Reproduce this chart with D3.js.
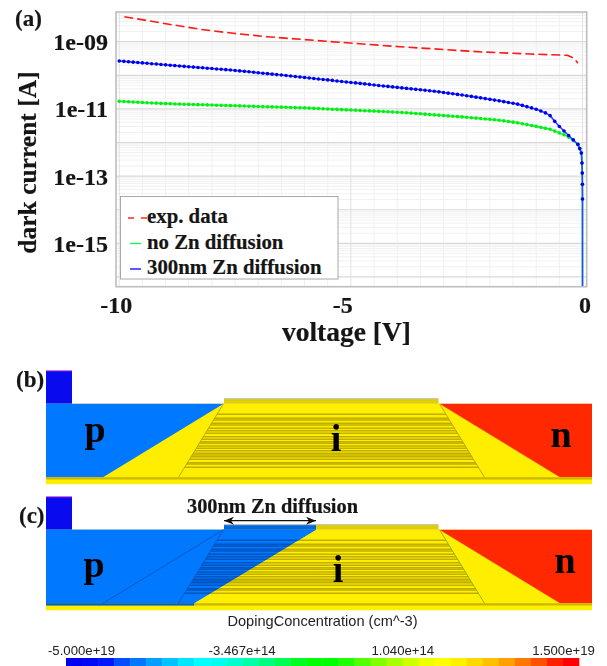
<!DOCTYPE html>
<html>
<head>
<meta charset="utf-8">
<style>
    html, body { margin: 0; padding: 0; background: #fff; }
    svg { display: block; filter: blur(0.35px); }
    .serif { font-family: "Liberation Serif", serif; font-weight: bold; fill: #151515; stroke: #151515; stroke-width: 0.2px; }
    .sans { font-family: "Liberation Sans", sans-serif; fill: #222; }
</style>
<script src="https://d3js.org/d3.v7.min.js"></script>
</head>
<body>
<svg id="chart" width="607" height="666"></svg>
<script>
// exp. data
var expVoltage = [-9.89, -8.96, -8.25, -7.54, -6.81, -6.09, -5.02, -3.94, -2.15, -1.13, -0.33, -0.23, -0.16, -0.10];
var expLogCurrent = [-8.256, -8.473, -8.631, -8.75, -8.851, -8.929, -9.039, -9.149, -9.307, -9.366, -9.405, -9.464, -9.53, -9.643];

// simulated sweeps share the same voltage points
var simVoltage = [-10, -9.9, -9.8, -9.7, -9.6, -9.5, -9.4, -9.3, -9.2, -9.1,
    -9, -8.9, -8.8, -8.7, -8.6, -8.5, -8.4, -8.3, -8.2, -8.1,
    -8, -7.9, -7.8, -7.7, -7.6, -7.5, -7.4, -7.3, -7.2, -7.1,
    -7, -6.9, -6.8, -6.7, -6.6, -6.5, -6.4, -6.3, -6.2, -6.1,
    -6, -5.9, -5.8, -5.7, -5.6, -5.5, -5.4, -5.3, -5.2, -5.1,
    -5, -4.9, -4.8, -4.7, -4.6, -4.5, -4.4, -4.3, -4.2, -4.1,
    -4, -3.9, -3.8, -3.7, -3.6, -3.5, -3.4, -3.3, -3.2, -3.1,
    -3, -2.9, -2.8, -2.7, -2.6, -2.5, -2.4, -2.3, -2.2, -2.1,
    -2, -1.9, -1.8, -1.7, -1.6, -1.5, -1.4, -1.3, -1.2, -1.1,
    -1, -0.9, -0.8, -0.7, -0.6, -0.5, -0.4, -0.3, -0.2, -0.1,
    -0.06, -0.025, -0.012, -0.006, -0.003, -0.001, -0.0002];
var noZnLogCurrent = [-10.774, -10.781, -10.788, -10.795, -10.801, -10.808, -10.815, -10.822, -10.829, -10.836,
    -10.842, -10.848, -10.852, -10.856, -10.86, -10.865, -10.869, -10.873, -10.877, -10.881,
    -10.885, -10.89, -10.894, -10.898, -10.902, -10.906, -10.91, -10.915, -10.919, -10.923,
    -10.927, -10.931, -10.935, -10.939, -10.943, -10.947, -10.952, -10.956, -10.96, -10.964,
    -10.97, -10.976, -10.983, -10.989, -10.995, -11.002, -11.008, -11.014, -11.021, -11.027,
    -11.034, -11.04, -11.046, -11.053, -11.059, -11.065, -11.072, -11.078, -11.085, -11.091,
    -11.097, -11.105, -11.115, -11.125, -11.135, -11.145, -11.155, -11.165, -11.176, -11.186,
    -11.197, -11.207, -11.218, -11.228, -11.238, -11.249, -11.261, -11.273, -11.285, -11.298,
    -11.31, -11.323, -11.336, -11.355, -11.374, -11.394, -11.414, -11.44, -11.466, -11.492,
    -11.52, -11.549, -11.578, -11.607, -11.66, -11.714, -11.768, -11.838, -11.94, -12.05,
    -12.18, -12.31, -12.61, -12.91, -13.24, -13.68, -16.29];
var znLogCurrent = [-9.574, -9.585, -9.597, -9.608, -9.62, -9.631, -9.643, -9.654, -9.665, -9.677,
    -9.688, -9.7, -9.711, -9.722, -9.733, -9.744, -9.755, -9.766, -9.777, -9.788,
    -9.799, -9.81, -9.821, -9.832, -9.843, -9.855, -9.869, -9.882, -9.896, -9.91,
    -9.924, -9.937, -9.951, -9.965, -9.978, -9.992, -10.006, -10.02, -10.034, -10.048,
    -10.063, -10.078, -10.093, -10.108, -10.123, -10.137, -10.152, -10.167, -10.182, -10.197,
    -10.212, -10.226, -10.241, -10.256, -10.271, -10.286, -10.301, -10.316, -10.33, -10.345,
    -10.36, -10.375, -10.389, -10.403, -10.417, -10.431, -10.444, -10.458, -10.473, -10.492,
    -10.511, -10.53, -10.549, -10.568, -10.587, -10.606, -10.627, -10.649, -10.671, -10.693,
    -10.715, -10.737, -10.76, -10.784, -10.808, -10.832, -10.858, -10.895, -10.933, -10.97,
    -11.012, -11.062, -11.118, -11.2, -11.37, -11.525, -11.655, -11.79, -11.92, -12.055,
    -12.18, -12.31, -12.61, -12.91, -13.24, -13.68, -16.29];

var voltageTicks = [-10, -5, 0];
var voltageGrid = [-10, -9.5, -9, -8.5, -8, -7.5, -7, -6.5, -6, -5.5, -5, -4.5, -4, -3.5, -3, -2.5, -2, -1.5, -1, -0.5, 0];
var decadeGrid = [-9, -10, -11, -12, -13, -14, -15, -16];
var decadeLabels = [-9, -11, -13, -15];
var minorSteps = [2, 3, 4, 5, 6, 7, 8, 9];

var legendNames = ["exp. data", "no Zn diffusion", "300nm Zn diffusion"];
var legendColors = ["#ff2a2a", "#00ff55", "#0000ff"];

// device cross section, in pixels of the drawing from the contact's top left corner
var contactShape = [[0, 0], [26, 0], [26, 33], [0, 33]];
var pShape = [[0, 33], [177.5, 33], [57, 106.6], [0, 106.6]];
var nShape = [[393.5, 33], [546, 33], [546, 106.6], [514, 106.6]];
var activeShape = [[177.5, 33], [393.5, 33], [438.5, 106.6], [132.5, 106.6]];
var mesaShape = [[178, 28], [392.5, 28], [392.5, 33], [178, 33]];
var baseShape = [[0, 33], [546, 33], [546, 113.5], [0, 113.5]];
var bufferBand = [[0, 106.6], [546, 106.6], [546, 108.8], [0, 108.8]];
var znShape = [[0, 33], [270, 33], [148, 106.6], [0, 106.6]];
var znActiveShape = [[177.5, 33], [270, 33], [148, 106.6], [132.5, 106.6]];
var znMesaShape = [[178, 28], [270, 28], [270, 33], [178, 33]];
var znBufferBand = [[0, 106.6], [148, 106.6], [148, 108.8], [0, 108.8]];
var layerDepths = [43.6, 47.6, 49.3, 52.6, 54.3, 57.6, 60, 62.6, 66, 68.6, 71, 72.6, 75.3, 77.6, 80, 82.6, 84.3, 86, 88.6, 92, 93.3, 96.6];

var scaleColors = ["#0000f0", "#0008f4", "#0018f8", "#0050ff", "#0078ff", "#00a0ff", "#00c4ff", "#00e8ff",
    "#00ffff", "#00fff0", "#00ffd0", "#00ffa8", "#00ff80", "#00ff50", "#00ff20", "#00ff00",
    "#00ff00", "#20ff00", "#50ff00", "#80ff00", "#a8ff00", "#d0ff00", "#f0ff00", "#ffff00",
    "#fff000", "#ffd800", "#ffc000", "#ffa000", "#ff7800", "#ff5000", "#ff2000", "#ff0000"];
var scaleLabels = ["-5.000e+19", "-3.467e+14", "1.040e+14", "1.500e+19"];

var svg = d3.select("#chart");

// ---- (a) dark current plot
var x = d3.scaleLinear().domain([-10.07, 0.09]).range([116, 586.7]);
var y = d3.scaleLinear().domain([-8.116, -16.29]).range([12, 286.7]);

var plot = svg.append("g");

plot.append("rect")
    .attr("x", x.range()[0]).attr("y", y.range()[0])
    .attr("width", x.range()[1] - x.range()[0]).attr("height", y.range()[1] - y.range()[0])
    .attr("fill", "#fff");

decadeGrid.forEach(function (decade) {
    minorSteps.forEach(function (step) {
        var value = decade + Math.log10(step);
        if (value > y.domain()[0]) { return; }
        plot.append("line")
            .attr("x1", x.range()[0]).attr("x2", x.range()[1])
            .attr("y1", y(value)).attr("y2", y(value))
            .attr("stroke", "#f1f1f1").attr("stroke-width", 1);
    });
});

plot.selectAll(".vgrid").data(voltageGrid).enter().append("line")
    .attr("class", "vgrid")
    .attr("x1", function (d) { return x(d); }).attr("x2", function (d) { return x(d); })
    .attr("y1", y.range()[0]).attr("y2", y.range()[1])
    .attr("stroke", function (d) { return d % 5 === 0 ? "#e2e2e2" : "#f0f0f0"; })
    .attr("stroke-width", 1);

plot.selectAll(".hgrid").data(decadeGrid).enter().append("line")
    .attr("class", "hgrid")
    .attr("x1", x.range()[0]).attr("x2", x.range()[1])
    .attr("y1", function (d) { return y(d); }).attr("y2", function (d) { return y(d); })
    .attr("stroke", "#d9d9d9").attr("stroke-width", 1.2);

var curve = d3.line()
    .x(function (d) { return x(d[0]); })
    .y(function (d) { return y(d[1]); });

plot.append("path")
    .attr("d", curve(d3.zip(expVoltage, expLogCurrent)))
    .attr("fill", "none")
    .attr("stroke", "#ff1818")
    .attr("stroke-width", 1.6)
    .attr("stroke-dasharray", "9,4");

function drawSweep(values, lineColor, dotColor) {
    var points = d3.zip(simVoltage, values);
    plot.append("path")
        .attr("d", curve(points))
        .attr("fill", "none")
        .attr("stroke", lineColor)
        .attr("stroke-width", 1.6);
    // the last point only carries the line down to the axis
    plot.append("g").selectAll("circle").data(points.slice(0, -1)).enter().append("circle")
        .attr("cx", function (d) { return x(d[0]); })
        .attr("cy", function (d) { return y(d[1]); })
        .attr("r", 1.8)
        .attr("fill", dotColor);
}
drawSweep(noZnLogCurrent, "#20f840", "#00f010");
drawSweep(znLogCurrent, "#2a48ff", "#0000f0");

plot.append("rect")
    .attr("x", x.range()[0]).attr("y", y.range()[0])
    .attr("width", x.range()[1] - x.range()[0]).attr("height", y.range()[1] - y.range()[0])
    .attr("fill", "none")
    .attr("stroke", "#bdbdbd")
    .attr("stroke-width", 1.6);

// axes only supply the labels, the frame above is the axis line
var yAxis = plot.append("g")
    .attr("transform", "translate(108,0)")
    .call(d3.axisLeft(y).tickValues(decadeLabels).tickSize(0).tickPadding(0)
        .tickFormat(function (d) { return "1e-" + d3.format("02d")(-d); }));
yAxis.select(".domain").remove();
yAxis.selectAll("text").attr("class", "serif").style("font-size", "24px").attr("dy", "0.33em");

var xAxis = plot.append("g")
    .attr("transform", "translate(0,313)")
    .call(d3.axisBottom(x).tickValues(voltageTicks).tickSize(0).tickPadding(0)
        .tickFormat(function (d) { return String(d); }));
xAxis.select(".domain").remove();
xAxis.selectAll("text").attr("class", "serif").style("font-size", "24px").attr("dy", 0)
    .attr("x", function (d) { return d === -10 ? -3.5 : d === -5 ? -8.7 : 2; });

plot.append("text").attr("class", "serif")
    .attr("x", 346.5).attr("y", 341)
    .attr("text-anchor", "middle")
    .style("font-size", "27.5px")
    .text("voltage [V]");

plot.append("text").attr("class", "serif")
    .attr("transform", "translate(36,162.5) rotate(-90)")
    .attr("text-anchor", "middle")
    .style("font-size", "25.5px")
    .text("dark current [A]");

// legend box
var legend = plot.append("g");
legend.append("rect")
    .attr("x", 120.5).attr("y", 196.5).attr("width", 217.5).attr("height", 82.5)
    .attr("fill", "#fff").attr("stroke", "#a8a8a8").attr("stroke-width", 1);
var legendRow = d3.scalePoint().domain(legendNames).range([223, 274]);
legendNames.forEach(function (name, i) {
    legend.append("line")
        .attr("x1", i === 0 ? 128 : 130).attr("x2", i === 0 ? 147 : 141)
        .attr("y1", legendRow(name) - 5).attr("y2", legendRow(name) - 5)
        .attr("stroke", legendColors[i]).attr("stroke-width", 1.3)
        .attr("stroke-dasharray", i === 0 ? "6,7" : null);
    legend.append("text").attr("class", "serif")
        .attr("x", 147).attr("y", legendRow(name))
        .style("font-size", "20.8px")
        .text(name);
});

// ---- (b) and (c) device cross sections
var deviceX = d3.scaleLinear().domain([0, 546]).range([46, 592]);
var defs = svg.append("defs");

function drawDevice(top, diffused, clipId) {
    var deviceY = d3.scaleLinear().domain([0, 113.5]).range([top, top + 113.5]);
    var shape = d3.line()
        .x(function (d) { return deviceX(d[0]); })
        .y(function (d) { return deviceY(d[1]); });
    var panel = svg.append("g");
    function poly(points, color, stroke) {
        return panel.append("path")
            .attr("d", shape(points) + "Z")
            .attr("fill", color || "none")
            .attr("stroke", stroke || "none")
            .attr("stroke-width", 0.8);
    }

    poly(baseShape, "#ffee00");
    poly(contactShape, "#0a0aef");
    panel.append("line")
        .attr("x1", deviceX(0)).attr("x2", deviceX(26))
        .attr("y1", deviceY(0)).attr("y2", deviceY(0))
        .attr("stroke", "#e060e0").attr("stroke-width", 1);
    poly(pShape, "#0078ff");
    poly(nShape, "#ff2800");
    poly(mesaShape, "#e0cf00");
    poly(bufferBand, "#c9b800");
    if (diffused) {
        poly(znShape, "#0078ff");
        poly(znMesaShape, "#0068e0");
        poly(znBufferBand, "#0060c8");
    }

    defs.append("clipPath").attr("id", clipId)
        .append("path").attr("d", shape(activeShape) + "Z");
    var stripes = panel.append("g").attr("clip-path", "url(#" + clipId + ")");
    stripes.selectAll("line").data(layerDepths).enter().append("line")
        .attr("x1", deviceX(0)).attr("x2", deviceX(546))
        .attr("y1", function (d) { return deviceY(d); }).attr("y2", function (d) { return deviceY(d); })
        .attr("stroke", "#c0ae00").attr("stroke-width", 1.5);

    if (diffused) {
        defs.append("clipPath").attr("id", clipId + "-zn")
            .append("path").attr("d", shape(znActiveShape) + "Z");
        var znStripes = panel.append("g").attr("clip-path", "url(#" + clipId + "-zn)");
        znStripes.append("path").attr("d", shape(znActiveShape) + "Z").attr("fill", "#0078ff");
        znStripes.selectAll("line").data(layerDepths).enter().append("line")
            .attr("x1", deviceX(0)).attr("x2", deviceX(546))
            .attr("y1", function (d) { return deviceY(d); }).attr("y2", function (d) { return deviceY(d); })
            .attr("stroke", "#0054c0").attr("stroke-width", 1.5);
        // old p boundary and mesa edge still show through the diffused zone
        panel.append("path")
            .attr("d", shape([[57, 106.6], [177.5, 33], [132.5, 106.6]]))
            .attr("fill", "none").attr("stroke", "#0050b0").attr("stroke-width", 0.8);
        panel.append("path")
            .attr("d", shape([[393.5, 33], [438.5, 106.6]]))
            .attr("fill", "none").attr("stroke", "#7ea800").attr("stroke-width", 0.8);
    } else {
        panel.append("path")
            .attr("d", shape([[177.5, 33], [132.5, 106.6]]) + shape([[393.5, 33], [438.5, 106.6]]))
            .attr("fill", "none").attr("stroke", "#a89a00").attr("stroke-width", 0.8);
    }

    panel.append("line")
        .attr("x1", deviceX(178)).attr("x2", deviceX(392.5))
        .attr("y1", deviceY(28)).attr("y2", deviceY(28))
        .attr("stroke", "#bdbdbd").attr("stroke-width", 1);
}
drawDevice(370.7, false, "clip-b");
drawDevice(496.7, true, "clip-c");

// panel letters and region labels
var panelLabels = [["(a)", 15, 26], ["(b)", 16, 387], ["(c)", 19, 523]];
var regionLabels = [["p", 95, 442], ["i", 336, 451], ["n", 561, 447], ["p", 94, 577], ["i", 338, 582], ["n", 565, 573]];

svg.selectAll(".panel-label").data(panelLabels).enter().append("text")
    .attr("class", "serif panel-label")
    .attr("x", function (d) { return d[1]; }).attr("y", function (d) { return d[2]; })
    .style("font-size", "23px")
    .text(function (d) { return d[0]; });

svg.selectAll(".region-label").data(regionLabels).enter().append("text")
    .attr("class", "region-label")
    .attr("x", function (d) { return d[1]; }).attr("y", function (d) { return d[2]; })
    .attr("text-anchor", "middle")
    .style("font-family", "'Liberation Serif', serif")
    .style("font-weight", "bold")
    .style("font-size", "38px")
    .text(function (d) { return d[0]; });

// 300nm annotation with its double arrow
svg.append("text").attr("class", "serif")
    .attr("x", 272.5).attr("y", 512.5)
    .attr("text-anchor", "middle")
    .style("font-size", "20.4px")
    .text("300nm Zn diffusion");
defs.append("marker").attr("id", "arrow-head")
    .attr("viewBox", "0 0 10 8").attr("refX", 10).attr("refY", 4)
    .attr("markerWidth", 10).attr("markerHeight", 8)
    .attr("markerUnits", "userSpaceOnUse").attr("orient", "auto-start-reverse")
    .append("path").attr("d", "M0,0L10,4L0,8L3,4Z").attr("fill", "#111");
svg.append("line")
    .attr("x1", 224).attr("x2", 316).attr("y1", 520.7).attr("y2", 520.7)
    .attr("stroke", "#111").attr("stroke-width", 1.2)
    .attr("marker-start", "url(#arrow-head)").attr("marker-end", "url(#arrow-head)");

// ---- colour scale
var scaleBand = d3.scaleBand().domain(d3.range(scaleColors.length)).range([66, 579]);
svg.selectAll(".scale-cell").data(scaleColors).enter().append("rect")
    .attr("class", "scale-cell")
    .attr("x", function (d, i) { return scaleBand(i); })
    .attr("y", 658)
    .attr("width", scaleBand.bandwidth() + 0.3)
    .attr("height", 8)
    .attr("fill", function (d) { return d; });

var labelPos = d3.scalePoint().domain(scaleLabels).range([81.5, 563.5]);
svg.selectAll(".scale-label").data(scaleLabels).enter().append("text")
    .attr("class", "sans scale-label")
    .attr("x", function (d) { return labelPos(d); })
    .attr("y", 654.5)
    .attr("text-anchor", "middle")
    .style("font-size", "13.2px")
    .text(function (d) { return d; });

svg.append("text").attr("class", "sans")
    .attr("x", 322.5).attr("y", 626)
    .attr("text-anchor", "middle")
    .style("font-size", "14.6px")
    .text("DopingConcentration (cm^-3)");
</script>
</body>
</html>
